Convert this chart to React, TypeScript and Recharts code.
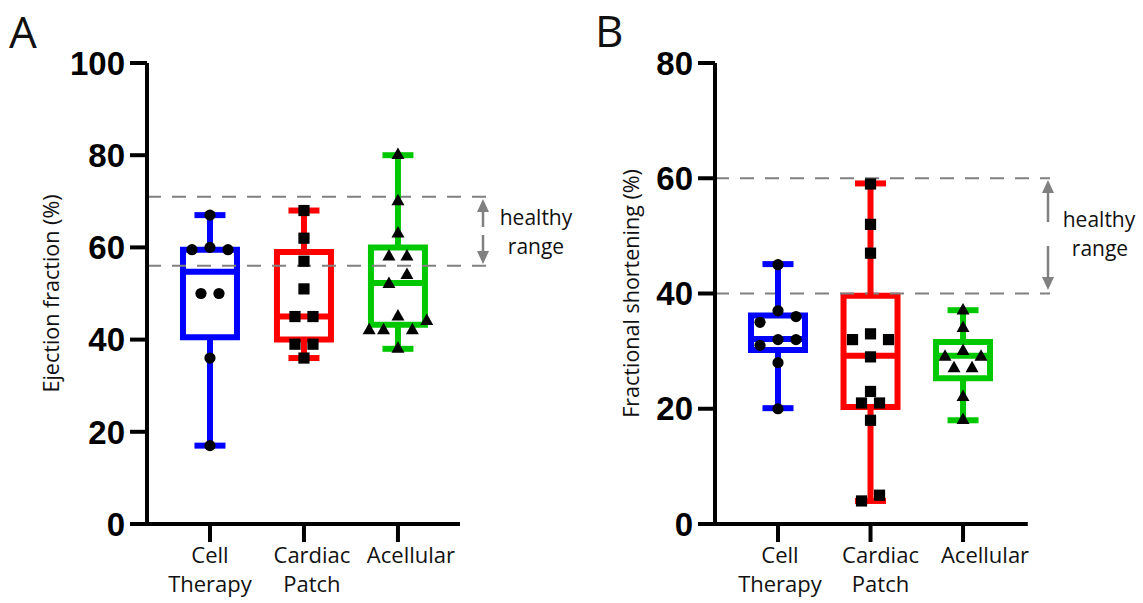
import React from 'react';
import { ComposedChart, XAxis, YAxis, Scatter, ReferenceLine, ReferenceArea } from 'recharts';

// ---------- data ----------
const categories = ['Cell Therapy', 'Cardiac Patch', 'Acellular'];
const categoryLines = [['Cell', 'Therapy'], ['Cardiac', 'Patch'], ['Acellular']];
const categoryPositions = [1, 2, 3];
const groupColors = ['#0000ff', '#ff0000', '#00c800'];
const groupMarkers = ['circle', 'square', 'triangle'];

// Panel A: Ejection fraction (%)
const efCellTherapy = [67, 60, 59.5, 59.5, 50, 50, 36, 17];
const efCardiacPatch = [68, 62, 57, 51, 45, 45, 39, 39, 36];
const efAcellular = [80, 70, 63, 58, 58, 54, 52, 45, 44, 42, 42, 42, 38];
const efMin = [17, 36, 38];
const efQ1 = [40.5, 40, 43.2];
const efMedian = [54.7, 45, 52.3];
const efQ3 = [59.5, 59, 60];
const efMax = [67, 68, 80];
const efTicks = [0, 20, 40, 60, 80, 100];
const efHealthy = [56, 71];

// Panel B: Fractional shortening (%)
const fsCellTherapy = [45, 37, 36, 35, 32, 32, 31, 28, 20];
const fsCardiacPatch = [59, 52, 47, 33, 32, 32, 29, 23, 21, 21, 18, 5, 4];
const fsAcellular = [37, 34, 30, 29, 29, 27, 27, 22, 18];
const fsMin = [20.1, 4, 18];
const fsQ1 = [30.2, 20.3, 25.3];
const fsMedian = [32.1, 29.2, 29.2];
const fsQ3 = [36.2, 39.6, 31.6];
const fsMax = [45.1, 59.1, 37.1];
const fsTicks = [0, 20, 40, 60, 80];
const fsHealthy = [40, 60];

// ---------- layout ----------
const PLOT_TOP = 63;
const PLOT_BOTTOM = 524;
const CHART_H = 603;
const TEXT_FONT = '"Open Sans", "Noto Sans", sans-serif';
const TICK_FONT = '"Liberation Sans", Arial, sans-serif';

function swarmOffsets(values: number[], pxPerY: number, pxPerX: number, spacingPx: number) {
  const idx = values.map((_, i) => i).sort((a, b) => values[a] - values[b]);
  const offsets = new Array(values.length).fill(0);
  let cluster: number[] = [];
  const flush = () => {
    const k = cluster.length;
    const s = k > 3 ? spacingPx * 0.8 : spacingPx;
    let order = cluster.slice();
    if (k % 2 === 1 && k > 1) {
      const top = order.pop() as number;
      order.splice((k - 1) / 2, 0, top);
    }
    order.forEach((id, j) => {
      offsets[id] = ((j - (k - 1) / 2) * s) / pxPerX;
    });
    cluster = [];
  };
  idx.forEach((id) => {
    if (cluster.length && (values[id] - values[cluster[cluster.length - 1]]) * pxPerY >= 11) flush();
    cluster.push(id);
  });
  flush();
  return offsets;
}

const Marker = ({ cx, cy, kind }: { cx: number; cy: number; kind: string }) => {
  if (cx == null || cy == null) return null;
  if (kind === 'circle') return <circle cx={cx} cy={cy} r={5.6} fill="#000" />;
  if (kind === 'square') return <rect x={cx - 5.6} y={cy - 5.6} width={11.2} height={11.2} fill="#000" />;
  const h = 11.5;
  const w = 13;
  return (
    <path
      d={`M${cx},${cy - (h * 2) / 3} L${cx + w / 2},${cy + h / 3} L${cx - w / 2},${cy + h / 3} Z`}
      fill="#000"
    />
  );
};

const makeCategoryTick = (shifts: number[]) => (props: any) => {
  const { x, y, payload } = props;
  const i = categoryPositions.indexOf(Math.round(payload.value));
  const lines = i >= 0 ? categoryLines[i] : [];
  const tx = x + (i >= 0 ? shifts[i] : 0);
  return (
    <text
      x={tx}
      y={y + 19}
      textAnchor="middle"
      fill="#111"
      style={{ fontFamily: TEXT_FONT, fontSize: 22 }}
    >
      {lines.map((l, k) => (
        <tspan key={k} x={tx} dy={k === 0 ? 0 : 29}>
          {l}
        </tspan>
      ))}
    </text>
  );
};

type PanelProps = {
  left: number;
  width: number;
  yAxisWidth: number;
  marginRight: number;
  xDomain: [number, number];
  axisEnd: number;
  yMax: number;
  ticks: number[];
  title: string;
  titleX: number;
  labelShifts: number[];
  groups: number[][];
  qMin: number[];
  q1: number[];
  med: number[];
  q3: number[];
  qMax: number[];
  healthy: number[];
};

const Panel = (p: PanelProps) => {
  const plotW = p.width - p.yAxisWidth - p.marginRight;
  const pxPerX = plotW / (p.xDomain[1] - p.xDomain[0]);
  const pxPerY = (PLOT_BOTTOM - PLOT_TOP) / p.yMax;
  const boxHalf = 27 / pxPerX;
  const capHalf = 15.5 / pxPerX;
  const sw = 6;

  const scatterData = p.groups.map((vals, gi) => {
    const offs = swarmOffsets(vals, pxPerY, pxPerX, 18);
    return vals.map((v, i) => ({ x: categoryPositions[gi] + offs[i], y: v }));
  });

  const boxEls: React.ReactNode[] = [];
  categoryPositions.forEach((c, gi) => {
    const col = groupColors[gi];
    boxEls.push(
      <ReferenceLine
        key={`wl${gi}`}
        segment={[{ x: c, y: p.qMin[gi] }, { x: c, y: p.q1[gi] }]}
        stroke={col}
        strokeWidth={sw}
        ifOverflow="visible"
      />,
      <ReferenceLine
        key={`wu${gi}`}
        segment={[{ x: c, y: p.q3[gi] }, { x: c, y: p.qMax[gi] }]}
        stroke={col}
        strokeWidth={sw}
        ifOverflow="visible"
      />,
      <ReferenceLine
        key={`cl${gi}`}
        segment={[{ x: c - capHalf, y: p.qMin[gi] }, { x: c + capHalf, y: p.qMin[gi] }]}
        stroke={col}
        strokeWidth={sw}
        ifOverflow="visible"
      />,
      <ReferenceLine
        key={`cu${gi}`}
        segment={[{ x: c - capHalf, y: p.qMax[gi] }, { x: c + capHalf, y: p.qMax[gi] }]}
        stroke={col}
        strokeWidth={sw}
        ifOverflow="visible"
      />,
      <ReferenceArea
        key={`bx${gi}`}
        x1={c - boxHalf}
        x2={c + boxHalf}
        y1={p.q1[gi]}
        y2={p.q3[gi]}
        fill="none"
        fillOpacity={0}
        stroke={col}
        strokeWidth={sw}
        strokeOpacity={1}
        ifOverflow="visible"
      />,
      <ReferenceLine
        key={`md${gi}`}
        segment={[{ x: c - boxHalf, y: p.med[gi] }, { x: c + boxHalf, y: p.med[gi] }]}
        stroke={col}
        strokeWidth={sw}
        ifOverflow="visible"
      />
    );
  });

  const renderTitle = (lp: any) => {
    const vb = lp.viewBox || { x: 0, y: PLOT_TOP, width: p.yAxisWidth, height: PLOT_BOTTOM - PLOT_TOP };
    const tx = vb.x + p.titleX;
    const ty = vb.y + vb.height / 2;
    return (
      <text
        x={tx}
        y={ty}
        transform={`rotate(-90 ${tx} ${ty})`}
        textAnchor="middle"
        dominantBaseline="central"
        fill="#111"
        style={{ fontFamily: TEXT_FONT, fontSize: 21.5 }}
      >
        {p.title}
      </text>
    );
  };

  const CategoryTick = makeCategoryTick(p.labelShifts);

  return (
    <div style={{ position: 'absolute', left: p.left, top: 0 }}>
      <ComposedChart
        width={p.width}
        height={CHART_H}
        margin={{ top: PLOT_TOP, right: p.marginRight, bottom: 0, left: 0 }}
      >
        <XAxis
          type="number"
          dataKey="x"
          domain={p.xDomain}
          ticks={categoryPositions}
          interval={0}
          allowDataOverflow
          axisLine={false}
          tickLine={{ stroke: '#000', strokeWidth: 4 }}
          tickSize={18}
          height={CHART_H - PLOT_BOTTOM}
          tick={CategoryTick}
        />
        <YAxis
          type="number"
          dataKey="y"
          domain={[0, p.yMax]}
          ticks={p.ticks}
          interval={0}
          allowDataOverflow
          width={p.yAxisWidth}
          axisLine={{ stroke: '#000', strokeWidth: 4 }}
          tickLine={{ stroke: '#000', strokeWidth: 4 }}
          tickSize={17}
          tickMargin={5}
          tick={{ fill: '#000', fontFamily: TICK_FONT, fontWeight: 700, fontSize: 33 }}
          label={{ content: renderTitle }}
        />
        {p.healthy.map((h, k) => (
          <ReferenceLine
            key={`h${k}`}
            y={h}
            stroke="#808080"
            strokeWidth={2}
            strokeDasharray="14 11"
          />
        ))}
        <ReferenceLine
          segment={[{ x: p.xDomain[0], y: 0 }, { x: p.axisEnd, y: 0 }]}
          stroke="#000"
          strokeWidth={4}
          ifOverflow="visible"
        />
        {boxEls}
        {scatterData.map((d, gi) => (
          <Scatter
            key={`s${gi}`}
            name={categories[gi]}
            data={d}
            isAnimationActive={false}
            shape={(sp: any) => <Marker cx={sp.cx} cy={sp.cy} kind={groupMarkers[gi]} />}
          />
        ))}
      </ComposedChart>
    </div>
  );
};

const Arrow = ({ x, from, to }: { x: number; from: number; to: number }) => {
  const dir = to < from ? -1 : 1;
  const headH = 13;
  const headW = 12;
  const baseY = to - dir * headH;
  return (
    <g>
      <line x1={x} y1={from} x2={x} y2={baseY} stroke="#808080" strokeWidth={2.5} />
      <path d={`M${x},${to} L${x + headW / 2},${baseY} L${x - headW / 2},${baseY} Z`} fill="#808080" />
    </g>
  );
};

export default function App() {
  return (
    <div style={{ position: 'absolute', left: 0, top: 0, width: 1143, height: 603, background: '#fff' }}>
      <Panel
        left={0}
        width={571}
        yAxisWidth={147}
        marginRight={84.7}
        xDomain={[0.33, 3.94]}
        axisEnd={3.66}
        yMax={100}
        ticks={efTicks}
        title="Ejection fraction (%)"
        titleX={50}
        labelShifts={[0, 8, 13]}
        groups={[efCellTherapy, efCardiacPatch, efAcellular]}
        qMin={efMin}
        q1={efQ1}
        med={efMedian}
        q3={efQ3}
        qMax={efMax}
        healthy={efHealthy}
      />
      <Panel
        left={571}
        width={572}
        yAxisWidth={144}
        marginRight={93}
        xDomain={[0.319, 3.94]}
        axisEnd={3.7}
        yMax={80}
        ticks={fsTicks}
        title="Fractional shortening (%)"
        titleX={59}
        labelShifts={[2, 10, 22]}
        groups={[fsCellTherapy, fsCardiacPatch, fsAcellular]}
        qMin={fsMin}
        q1={fsQ1}
        med={fsMedian}
        q3={fsQ3}
        qMax={fsMax}
        healthy={fsHealthy}
      />
      <svg
        width={1143}
        height={603}
        style={{ position: 'absolute', left: 0, top: 0, pointerEvents: 'none' }}
      >
        <text x={9} y={48} fill="#111" style={{ fontFamily: TEXT_FONT, fontSize: 44 }}>A</text>
        <text x={595} y={47} fill="#111" style={{ fontFamily: TEXT_FONT, fontSize: 44 }}>B</text>
        <Arrow x={483} from={227} to={199} />
        <Arrow x={483} from={235} to={264} />
        <text x={536} y={225} textAnchor="middle" fill="#111" style={{ fontFamily: TEXT_FONT, fontSize: 21 }}>healthy</text>
        <text x={536} y={254} textAnchor="middle" fill="#111" style={{ fontFamily: TEXT_FONT, fontSize: 21 }}>range</text>
        <Arrow x={1048} from={222} to={180} />
        <Arrow x={1048} from={246} to={290} />
        <text x={1099} y={227} textAnchor="middle" fill="#111" style={{ fontFamily: TEXT_FONT, fontSize: 21 }}>healthy</text>
        <text x={1100} y={256} textAnchor="middle" fill="#111" style={{ fontFamily: TEXT_FONT, fontSize: 21 }}>range</text>
      </svg>
    </div>
  );
}
